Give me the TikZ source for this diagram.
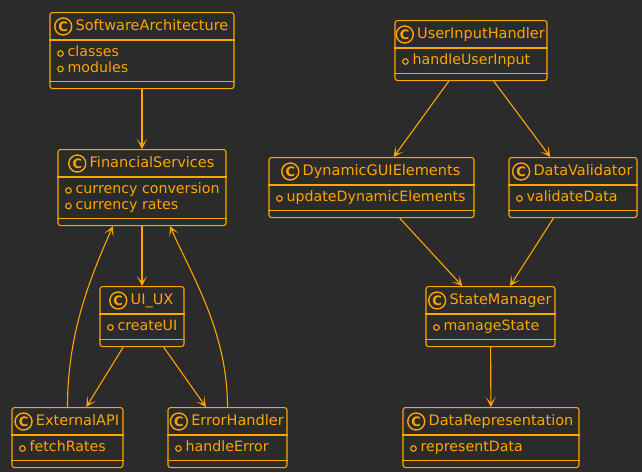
\documentclass[tikz,border=0pt]{standalone}
\usepackage{fontspec}
\setmainfont{DejaVu Sans}
\usepackage{tikz}
\usetikzlibrary{positioning,arrows.meta}
\definecolor{UMLOrange}{HTML}{FFA500}
\definecolor{UMLDark}{HTML}{2B2B2B}

% class box: name, centre x, top y, width, rows, title, members
\newcommand{\umlclass}[7]{%
  \node[clsbox,minimum width=#4pt,minimum height={44+16*#5},anchor=north] (#1) at (#2,#3) {};
  \draw[clsline] ([yshift=-28pt]#1.north west) -- ([yshift=-28pt]#1.north east);
  \draw[clsline] ([yshift=8pt]#1.south west) -- ([yshift=8pt]#1.south east);
  \node[clsname,xshift=10pt] (#1-name) at ([yshift=-14.5pt]#1.north) {#6};
  \node[clsicon,left=3pt of #1-name] (#1-icon) {C};
  \foreach \m [count=\i] in {#7}{
    \node[member,anchor=west] at ([xshift=18pt,yshift={-41-15.5*(\i-1)}]#1.north west) {\m};
    \draw[clsline] ([xshift=11pt,yshift={-41.5-15.5*(\i-1)}]#1.north west) circle (2.8pt);
  }%
}

\begin{document}
\begin{tikzpicture}[x=1pt,y=-1pt,>={Stealth[length=10pt,width=10pt,inset=6pt]}]
  \tikzstyle{clsbox}=[draw=UMLOrange,fill=UMLDark,line width=1.1pt,rounded corners=2.5pt,inner sep=0pt]
  \tikzstyle{clsline}=[draw=UMLOrange,line width=1.1pt]
  \tikzstyle{clsname}=[text=UMLOrange,inner sep=0pt,text height=10.5pt,text depth=3pt,
    font=\fontsize{14.5}{16}\selectfont]
  \tikzstyle{clsicon}=[circle,draw=UMLOrange,line width=1.4pt,minimum size=17pt,inner sep=0pt,
    text=UMLOrange,font=\bfseries\fontsize{13}{13}\selectfont]
  \tikzstyle{member}=[text=UMLOrange,inner sep=0pt,text height=10.5pt,text depth=3pt,
    font=\fontsize{14.2}{16}\selectfont]
  \tikzstyle{assoc}=[->,draw=UMLOrange,line width=1.1pt]
  \useasboundingbox[fill=UMLDark] (0,0) rectangle (642,472);

  % left group
  \umlclass{arch}{142}{12}{184}{2}{SoftwareArchitecture}{classes,modules}
  \umlclass{finance}{142}{149}{168}{2}{FinancialServices}{currency conversion,currency rates}
  \umlclass{uiux}{142}{286}{84}{1}{UI\_UX}{createUI}
  \umlclass{extapi}{67.5}{407}{111}{1}{ExternalAPI}{fetchRates}
  \umlclass{errhand}{227.5}{407}{119}{1}{ErrorHandler}{handleError}

  % right group
  \umlclass{input}{471}{20}{152}{1}{UserInputHandler}{handleUserInput}
  \umlclass{dyngui}{371.5}{157}{205}{1}{DynamicGUIElements}{updateDynamicElements}
  \umlclass{valid}{573}{157}{128}{1}{DataValidator}{validateData}
  \umlclass{state}{490.5}{286}{129}{1}{StateManager}{manageState}
  \umlclass{repr}{491}{407}{176}{1}{DataRepresentation}{representData}

  \draw[assoc] (arch) -- (finance);
  \draw[assoc] (finance) -- (uiux);
  \draw[assoc] (uiux) -- (extapi);
  \draw[assoc] (uiux) -- (errhand);
  \draw[assoc] (extapi.north) .. controls +(0,-75) and +(-22,50) .. (finance.233);
  \draw[assoc] (errhand.north) .. controls +(0,-75) and +(22,50) .. (finance.306);
  \draw[assoc] (input) -- (dyngui);
  \draw[assoc] (input) -- (valid);
  \draw[assoc] (dyngui) -- (state);
  \draw[assoc] (valid) -- (state);
  \draw[assoc] (state) -- (repr);
\end{tikzpicture}
\end{document}
